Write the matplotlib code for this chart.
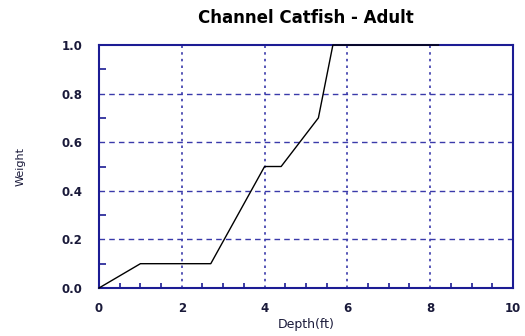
import matplotlib
matplotlib.use("Agg")
import matplotlib.pyplot as plt
from matplotlib.ticker import MultipleLocator

# Habitat suitability curve: depth (ft) vs weight
depth = [0.0, 1.0, 2.7, 4.0, 4.4, 5.3, 5.65, 8.2]
weight = [0.0, 0.1, 0.1, 0.5, 0.5, 0.7, 1.0, 1.0]

x_ticks = [0, 2, 4, 6, 8, 10]
y_ticks = [0.0, 0.2, 0.4, 0.6, 0.8, 1.0]

navy = "#1c1c94"
grid_col = "#3a3aaa"
text_col = "#1a1a3a"
font = ["DejaVu Sans"]

fig = plt.figure(figsize=(5.25, 3.36), dpi=100)
ax = fig.add_axes([0.1886, 0.1429, 0.7884, 0.7231])

ax.plot(depth, weight, color="black", lw=1.0, zorder=3, clip_on=False)

ax.set_xlim(0, 10)
ax.set_ylim(0, 1.0)
ax.set_xticks(x_ticks)
ax.set_yticks(y_ticks)
ax.set_xticklabels([str(v) for v in x_ticks], fontweight="bold", fontsize=8.5, family=font, color=text_col)
ax.set_yticklabels([f"{v:.1f}" for v in y_ticks], fontweight="bold", fontsize=8.5, family=font, color=text_col)
ax.xaxis.set_minor_locator(MultipleLocator(0.5))
ax.yaxis.set_minor_locator(MultipleLocator(0.1))
ax.tick_params(which="major", length=0)
ax.tick_params(axis="y", which="major", pad=12)
ax.tick_params(axis="x", which="major", pad=10)
ax.tick_params(which="minor", direction="in", color=navy, width=1.2)
ax.tick_params(axis="x", which="minor", length=3.5)
ax.tick_params(axis="y", which="minor", length=5)

for x in x_ticks[1:-1]:
    ax.axvline(x, color=grid_col, ls=(0, (1.5, 2.5)), lw=1.2, zorder=1)
for y in y_ticks[1:-1]:
    ax.axhline(y, color=grid_col, ls=(0, (4, 3)), lw=1.0, zorder=1)

for s in ax.spines.values():
    s.set_color(navy)
    s.set_linewidth(1.5)

ax.set_title("Channel Catfish - Adult", fontweight="bold", fontsize=12, family=font, pad=15.5)
ax.set_xlabel("Depth(ft)", fontsize=9, family=font, labelpad=2, color=text_col)
ax.set_ylabel("Weight", fontsize=8, family=font, labelpad=26, color=text_col)

fig.savefig("out.png", dpi=100)
